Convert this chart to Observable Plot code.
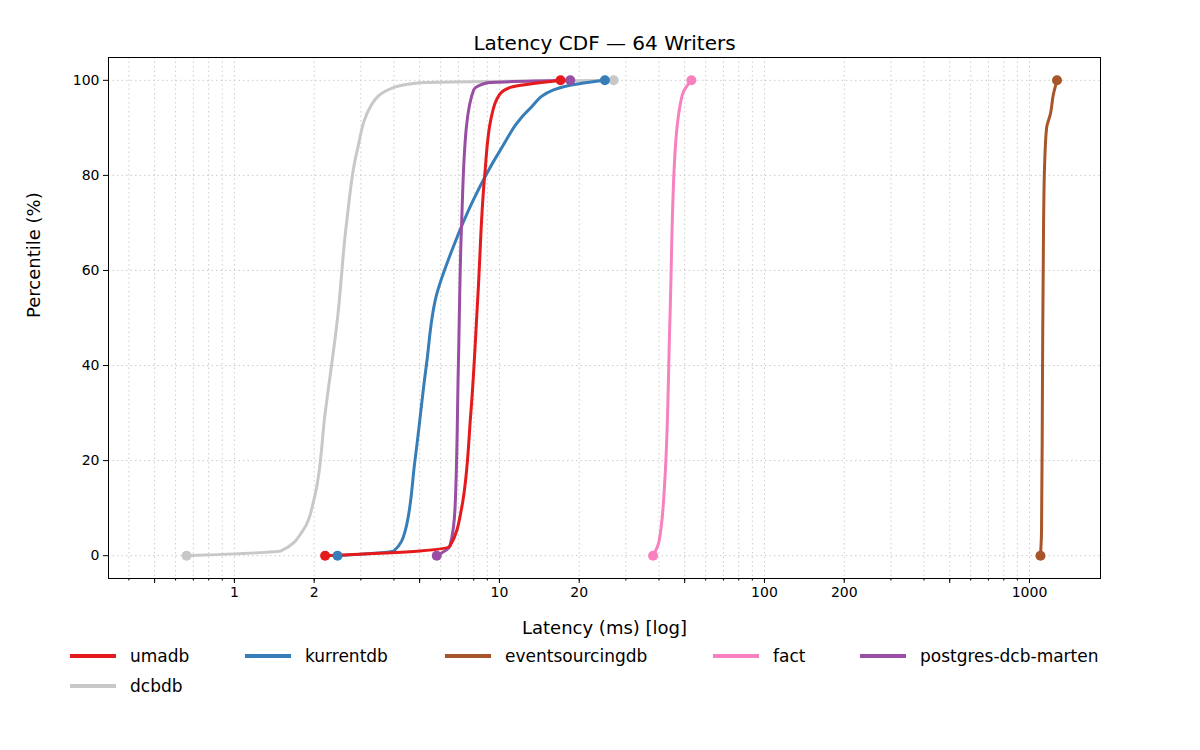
<!DOCTYPE html>
<html><head><meta charset="utf-8">
<script src="https://cdn.jsdelivr.net/npm/d3@7"></script>
<script src="https://cdn.jsdelivr.net/npm/@observablehq/plot@0.6"></script>
<style>
body{margin:0;background:#fff;font-family:"DejaVu Sans",sans-serif;}
#legend{position:relative;width:1200px;height:80px;font-size:17px;margin-top:6px}
.it{position:absolute;display:flex;align-items:center}
.sw{width:46px;height:4px;margin-right:14px}
</style></head><body>
<div id="chart"></div><div id="legend"></div>
<script>
const seriesNames = ["umadb","kurrentdb","eventsourcingdb","fact","postgres-dcb-marten","dcbdb"];
const colors = ["#e41a1c","#377eb8","#a65628","#f781bf","#984ea3","#c8c8c8"];
const umadb = [[2.2,0],[5,1],[6.5,2],[7.2,10],[7.8,30],[8.3,55],[8.8,80],[9.3,92],[10,97],[11,98.5],[17,100]];
const kurrentdb = [[2.45,0],[4,1],[4.4,5],[4.8,20],[5.3,40],[5.8,55],[6.7,65],[8,75],[10,85],[13,94],[16,98],[20,99.3],[25,100]];
const eventsourcingdb = [[1100,0],[1110,5],[1120,40],[1130,70],[1140,82],[1160,90],[1200,93],[1230,97],[1270,100]];
const fact = [[38,0],[40,3],[42,15],[44,50],[46,85],[49,97],[53,100]];
const postgres = [[5.8,0],[6.5,2],[6.8,10],[7.0,40],[7.2,70],[7.5,90],[8,98],[9,99.5],[18.5,100]];
const dcbdb = [[0.66,0],[1.5,1],[1.8,5],[2.0,12],[2.2,30],[2.45,50],[2.65,70],[2.9,85],[3.3,95],[4,98.5],[5,99.5],[27,100]];
const xTicks = [0.5,1,2,5,10,20,50,100,200,500,1000];
const yTicks = [0,20,40,60,80,100];
const all = [umadb,kurrentdb,eventsourcingdb,fact,postgres,dcbdb];
const rows = all.flatMap((s,i)=>s.map(([x,y])=>({x,y,s:seriesNames[i]})));
const ends = all.flatMap((s,i)=>[s[0],s[s.length-1]].map(([x,y])=>({x,y,s:seriesNames[i]})));
const minor = [];
for (let e=-1;e<=3;e++) for (let m=1;m<10;m++){const v=m*10**e; if(v>0.34&&v<1850) minor.push(v);}
const order = [5,2,3,1,4,0].map(i=>seriesNames[i]);
const plot = Plot.plot({
  width:1200,height:640,marginLeft:108,marginRight:100,marginTop:57,marginBottom:62,
  style:{fontFamily:"DejaVu Sans",fontSize:"14px",color:"#000",overflow:"visible"},
  x:{type:"log",domain:[0.335,1853]},
  y:{domain:[-4.8,104.8]},
  color:{domain:seriesNames,range:colors},
  marks:[
    Plot.ruleX(minor,{stroke:"#ccc",strokeDasharray:"1.5,3"}),
    Plot.ruleY(yTicks,{stroke:"#ccc",strokeDasharray:"1.5,3"}),
    Plot.axisX(minor,{tickSize:2.5,tickFormat:()=>"",label:null}),
    Plot.axisX(xTicks,{tickSize:5,tickFormat:d=>String(d),label:null,fontSize:14,tickPadding:4}),
    Plot.axisY(yTicks,{tickSize:5,label:null,fontSize:14,tickPadding:4}),
    ...order.map(n=>Plot.line(rows.filter(r=>r.s===n),{x:"x",y:"y",stroke:"s",strokeWidth:3,curve:"monotone-y"})),
    ...order.map(n=>Plot.dot(ends.filter(r=>r.s===n),{x:"x",y:"y",fill:"s",r:5})),
    Plot.frame({stroke:"#000"}),
    Plot.text(["Latency CDF — 64 Writers"],{frameAnchor:"top",dy:-22,fontSize:20}),
    Plot.text(["Latency (ms) [log]"],{frameAnchor:"bottom",dy:55,fontSize:18}),
    Plot.text(["Percentile (%)"],{frameAnchor:"left",dx:-74,rotate:-90,fontSize:18})
  ]
});
document.getElementById("chart").append(plot);
const lg=document.getElementById("legend");
const pos=[[70,0],[245,0],[445,0],[713,0],[860,0],[70,30]];
seriesNames.forEach((n,i)=>{const d=document.createElement("div");d.className="it";d.style.left=pos[i][0]+"px";d.style.top=pos[i][1]+"px";d.innerHTML=`<span class="sw" style="background:${colors[i]}"></span>${n}`;lg.append(d);});
</script></body></html>
